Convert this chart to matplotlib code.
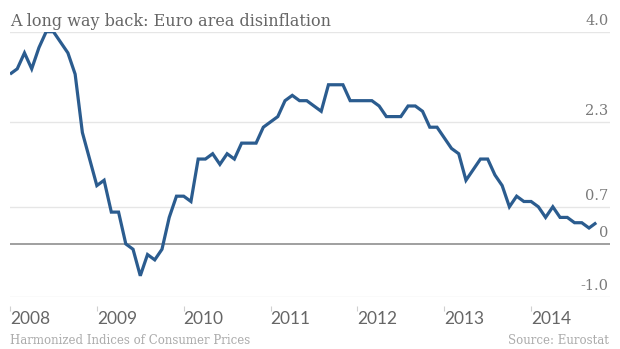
import numpy as np
import matplotlib.pyplot as plt

# Euro area HICP, annual rate of change (%), monthly Jan 2008 - Oct 2014
hicp = [3.2, 3.3, 3.6, 3.3, 3.7, 4.0, 4.0, 3.8, 3.6, 3.2, 2.1, 1.6,
        1.1, 1.2, 0.6, 0.6, 0.0, -0.1, -0.6, -0.2, -0.3, -0.1, 0.5, 0.9,
        0.9, 0.8, 1.6, 1.6, 1.7, 1.5, 1.7, 1.6, 1.9, 1.9, 1.9, 2.2,
        2.3, 2.4, 2.7, 2.8, 2.7, 2.7, 2.6, 2.5, 3.0, 3.0, 3.0, 2.7,
        2.7, 2.7, 2.7, 2.6, 2.4, 2.4, 2.4, 2.6, 2.6, 2.5, 2.2, 2.2,
        2.0, 1.8, 1.7, 1.2, 1.4, 1.6, 1.6, 1.3, 1.1, 0.7, 0.9, 0.8,
        0.8, 0.7, 0.5, 0.7, 0.5, 0.5, 0.4, 0.4, 0.3, 0.4]
years = [2008, 2009, 2010, 2011, 2012, 2013, 2014]
yticks = [4.0, 2.3, 0.7, 0, -1.0]
ytick_labels = ["4.0", "2.3", "0.7", "0", "-1.0"]

months = np.arange(len(hicp))

fig = plt.figure(figsize=(6.2, 3.49), dpi=100)
ax = fig.add_axes([10 / 620, 52 / 349, 600 / 620, 265.3 / 349])

ax.plot(months, hicp, color="#2b5c8f", lw=2.3, solid_joinstyle="miter",
        solid_capstyle="butt", zorder=3)

ax.set_xlim(0, 82.9)
ax.set_ylim(-1.0, 4.0)

# horizontal guides, zero line darker
for v in yticks:
    if v == 0:
        ax.axhline(v, color="#858585", lw=1.1, zorder=2)
    else:
        ax.axhline(v, color="#e6e6e6", lw=1.0, zorder=1)

for v, lab in zip(yticks, ytick_labels):
    ax.annotate(lab, xy=(1, v), xycoords=("axes fraction", "data"),
                xytext=(-1, 3), textcoords="offset points",
                ha="right", va="bottom", fontsize=10.5,
                family="DejaVu Serif", color="#7a7a7a")

ax.set_yticks([])
for s in ["top", "right", "left"]:
    ax.spines[s].set_visible(False)
ax.spines["bottom"].set_position(("outward", 6.5))
ax.spines["bottom"].set_visible(False)

ax.set_xticks([12 * i for i in range(len(years))])
ax.set_xticklabels([str(y) for y in years])
ax.tick_params(axis="x", length=3.5, width=0.8, color="#d0d0d0", pad=0,
               labelsize=12.5, labelcolor="#666666")
for t in ax.get_xticklabels():
    t.set_ha("left")
    t.set_family("Lato")

fig.text(10 / 620, 1 - 26 / 349, "A long way back: Euro area disinflation",
         ha="left", va="baseline", fontsize=11.5, family="DejaVu Serif",
         color="#666666")
fig.text(10 / 620, 1 - 344 / 349, "Harmonized Indices of Consumer Prices",
         ha="left", va="baseline", fontsize=8.5, family="DejaVu Serif",
         color="#ababab")
fig.text(609 / 620, 1 - 344 / 349, "Source: Eurostat",
         ha="right", va="baseline", fontsize=8.5, family="DejaVu Serif",
         color="#ababab")

fig.savefig("out.png", dpi=100)
